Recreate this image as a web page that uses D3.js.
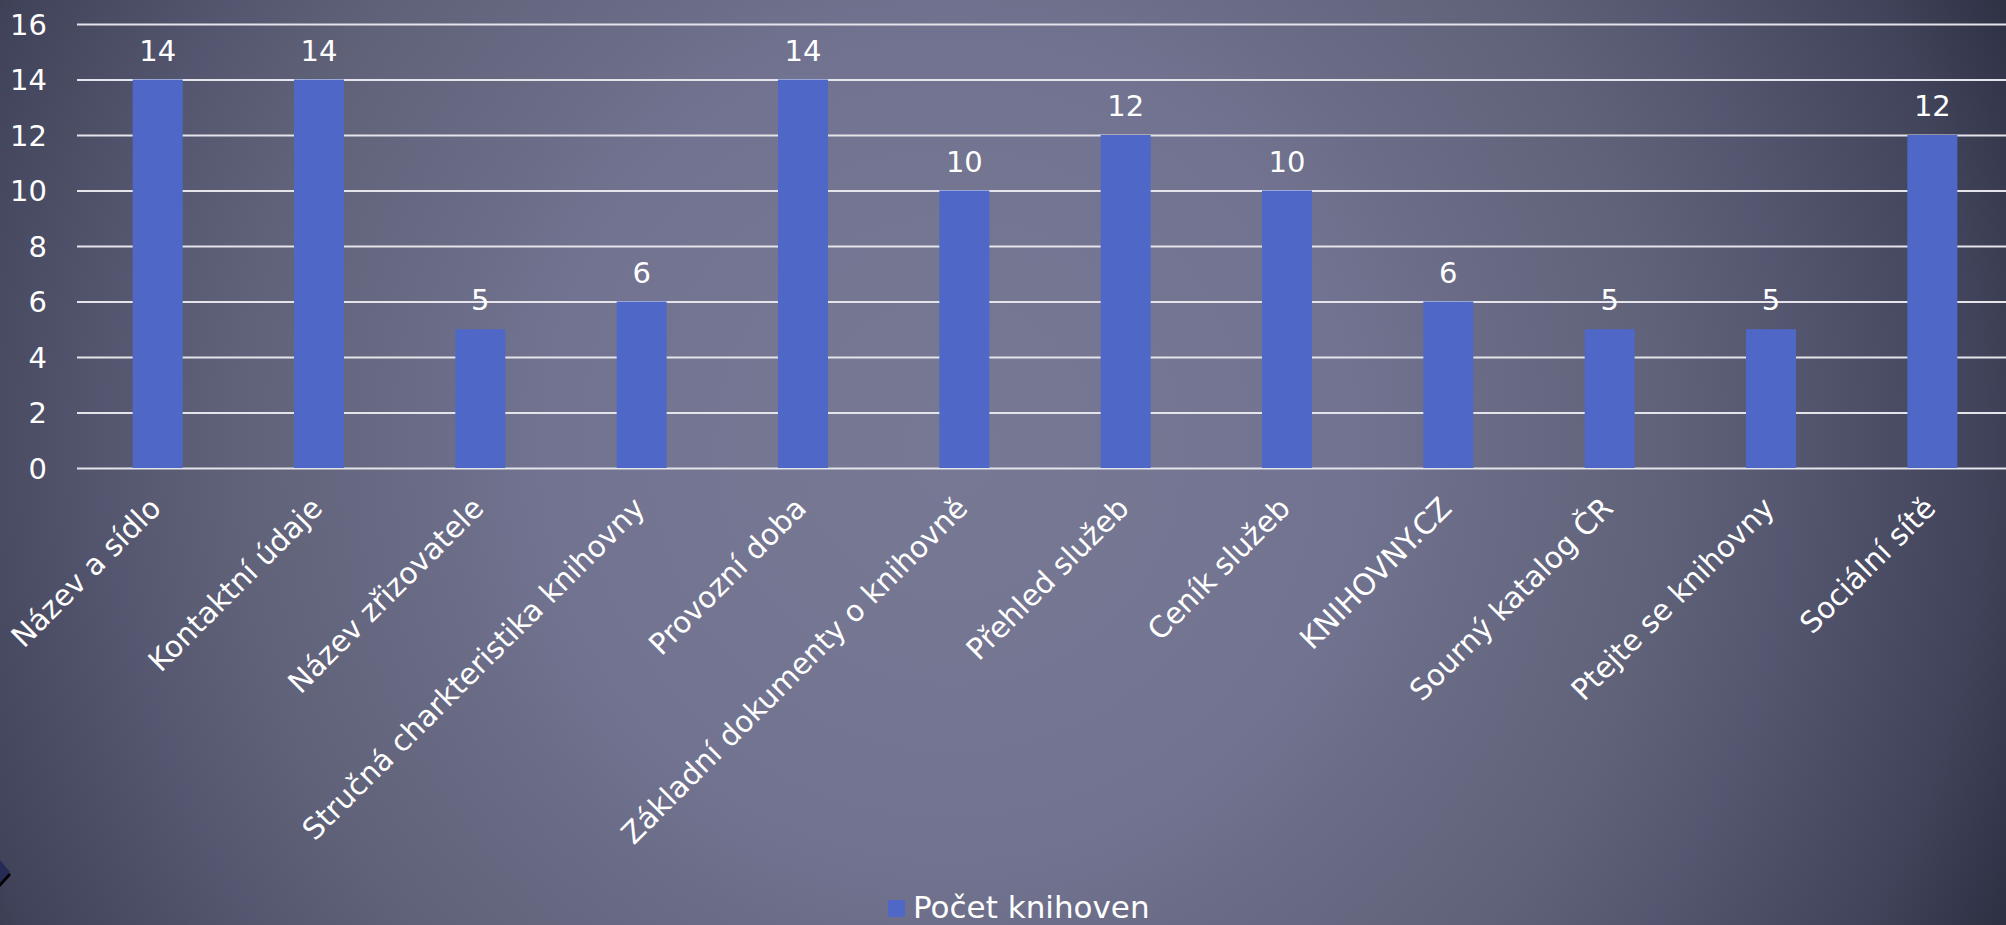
<!DOCTYPE html>
<html>
<head>
<meta charset="utf-8">
<script src="https://cdn.jsdelivr.net/npm/d3@7"></script>
<style>
html,body{margin:0;padding:0;overflow:hidden;background:#3a3c50;}
svg{display:block;}
text{font-family:"Century Gothic","DejaVu Sans",sans-serif;fill:#ffffff;}
</style>
</head>
<body>
<svg id="chart" width="2006" height="925"></svg>
<script>
const categories = ["Název a sídlo","Kontaktní údaje","Název zřizovatele","Stručná charkteristika knihovny","Provozní doba","Základní dokumenty o knihovně","Přehled služeb","Ceník služeb","KNIHOVNY.CZ","Sourný katalog ČR","Ptejte se knihovny","Sociální sítě"];
const values = [14,14,5,6,14,10,12,10,6,5,5,12];
const yTicks = [0,2,4,6,8,10,12,14,16];
const seriesName = "Počet knihoven";

const W = 2006, H = 925;
const svg = d3.select("#chart");

// background
const defs = svg.append("defs");
const grad = defs.append("radialGradient").attr("id","bg")
  .attr("gradientUnits","userSpaceOnUse")
  .attr("cx",950).attr("cy",450).attr("r",1150);
[[0,"#777994"],[0.35,"#717390"],[0.62,"#606279"],[0.73,"#555770"],[0.9,"#41435a"],[1,"#2e3044"]]
  .forEach(([o,c])=>grad.append("stop").attr("offset",o).attr("stop-color",c));
svg.append("rect").attr("width",W).attr("height",H).attr("fill","url(#bg)");

// decorative corner shape
svg.append("polygon").attr("points","0,864 11,875 0,887").attr("fill","#000000");
svg.append("polygon").attr("points","0,860 10,872 0,883").attr("fill","#262b55");

const plotLeft = 77, plotRight = 2013, plotTop = 24, plotBottom = 468;
const x = d3.scaleBand().domain(categories).range([plotLeft, plotRight]).padding(0);
const y = d3.scaleLinear().domain([0,16]).range([plotBottom, plotTop]);
const barW = x.bandwidth()*0.31;

// gridlines + y labels
const yAxis = d3.axisLeft(y).tickValues(yTicks).tickSize(-(W - plotLeft)).tickPadding(30);
const gy = svg.append("g").attr("transform",`translate(${plotLeft},0)`).call(yAxis);
gy.select(".domain").remove();
gy.selectAll(".tick line").attr("stroke","#e4e4ea").attr("stroke-width",2);
gy.selectAll(".tick text").attr("font-size",29).attr("fill","#ffffff")
  .attr("font-family","'Century Gothic','DejaVu Sans',sans-serif")
  .attr("x",-30).attr("dy","0.35em");

// bars
svg.append("g").selectAll("rect").data(values).join("rect")
  .attr("x",(d,i)=>x(categories[i]) + x.bandwidth()/2 - barW/2)
  .attr("y",d=>y(d))
  .attr("width",barW)
  .attr("height",d=>y(0)-y(d))
  .attr("fill","#4f68c8");

// data labels
svg.append("g").selectAll("text").data(values).join("text")
  .attr("x",(d,i)=>x(categories[i]) + x.bandwidth()/2)
  .attr("y",d=>y(d)-19)
  .attr("text-anchor","middle")
  .attr("font-size",29)
  .text(d=>d);

// category labels
svg.append("g").selectAll("text").data(categories).join("text")
  .attr("transform",d=>`translate(${x(d)+x.bandwidth()/2+5},${plotBottom+42}) rotate(-45)`)
  .attr("text-anchor","end")
  .attr("font-size",29.5)
  .text(d=>d);

// legend
const lg = svg.append("g").attr("transform","translate(888,900)");
lg.append("rect").attr("width",17).attr("height",17).attr("fill","#4f68c8");
lg.append("text").attr("x",25).attr("y",18).attr("font-size",31).text(seriesName);
</script>
</body>
</html>
